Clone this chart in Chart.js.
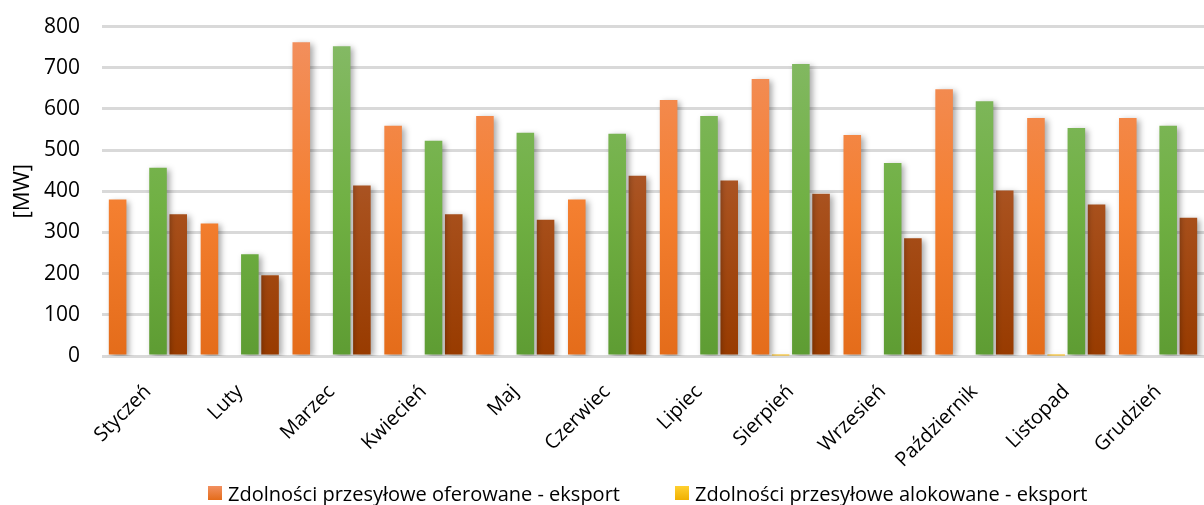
<!DOCTYPE html>
<html><head><meta charset="utf-8">
<script src="https://cdn.jsdelivr.net/npm/chart.js@4/dist/chart.umd.min.js"></script>
<style>
html,body{margin:0;padding:0;background:#fff;overflow:hidden}
#wrap{position:relative;width:1204px;height:505px;overflow:hidden}
#c{position:absolute;left:0;top:-8px}
#legend{position:absolute;left:0;top:480px;width:1204px;height:26px;font-family:'Open Sans';font-size:20px;color:#000;}
.item{position:absolute;top:0;display:flex;align-items:center;height:26px;white-space:nowrap}
.box{width:14px;height:14px;margin-right:6px}
</style>
</head><body><div id="wrap"><canvas id="c" width="1204" height="513"></canvas><div id="legend"></div></div>
<script>
const categories = ['Styczeń','Luty','Marzec','Kwiecień','Maj','Czerwiec','Lipiec','Sierpień','Wrzesień','Październik','Listopad','Grudzień'];
const offeredExport = [380,322,762,559,583,380,622,673,537,648,578,578];
const allocatedExport = [0,0,0,0,0,0,0,1.5,0,0,1.5,0];
const offeredImport = [457,247,752,523,542,540,583,709,469,619,554,559];
const allocatedImport = [344,196,414,344,331,438,426,394,286,402,368,336];
const yTicks = [0,100,200,300,400,500,600,700,800];
const seriesNames = ['Zdolności przesyłowe oferowane - eksport','Zdolności przesyłowe alokowane - eksport','Zdolności przesyłowe oferowane - import','Zdolności przesyłowe alokowane - import'];

function grad(top, mid, bottom){
  return function(ctx){
    const ch = ctx.chart; const a = ch.chartArea;
    if(!a) return bottom;
    const g = ch.ctx.createLinearGradient(0, a.top, 0, a.bottom);
    g.addColorStop(0, top); g.addColorStop(0.55, mid); g.addColorStop(1, bottom);
    return g;
  };
}
const shadow = {
  id:'shadow',
  beforeDatasetsDraw(ch){const c=ch.ctx;c.save();c.shadowColor='rgba(0,0,0,0.35)';c.shadowBlur=6;c.shadowOffsetX=3;c.shadowOffsetY=2;},
  afterDatasetsDraw(ch){ch.ctx.restore();}
};
const F = 'Open Sans';
const common = {categoryPercentage:0.88, barPercentage:0.87, borderWidth:0};
const chart = new Chart(document.getElementById('c'), {
  type:'bar',
  data:{labels:categories, datasets:[
    Object.assign({label:seriesNames[0], data:offeredExport, backgroundColor:grad('#f29060','#f47f30','#e46c1a')},common),
    Object.assign({label:seriesNames[1], data:allocatedExport, backgroundColor:'#f5b400'},common),
    Object.assign({label:seriesNames[2], data:offeredImport, backgroundColor:grad('#86ba68','#70b043','#5e9c33')},common),
    Object.assign({label:seriesNames[3], data:allocatedImport, backgroundColor:grad('#b36a50','#a8501c','#983b00')},common)
  ]},
  options:{
    responsive:false, animation:false,
    layout:{autoPadding:false, padding:{left:0,right:0,top:18,bottom:0}},
    plugins:{ tooltip:{enabled:false}, legend:{display:false} },
    scales:{
      x:{grid:{display:false}, border:{display:false},
        afterFit:(ax)=>{ax.height=149;},
        ticks:{minRotation:45, maxRotation:45, color:'#000', font:{family:F, size:20}, padding:16}},
      y:{min:0, max:800, afterBuildTicks:(ax)=>{ax.ticks=yTicks.map(v=>({value:v}));},
        afterFit:(ax)=>{ax.width=102;},
        grid:{color:'#d9d9d9', lineWidth:3, drawTicks:false}, border:{display:false},
        ticks:{color:'#000', font:{family:F, size:21}, padding:22},
        title:{display:true, text:'[MW]', color:'#000', font:{family:F, size:22}, padding:{top:10,bottom:8}}}
    }
  },
  plugins:[shadow]
});
// HTML legend built from the chart's first two datasets
const legendColors = ['linear-gradient(#f29060,#e46c1a)','linear-gradient(#ffd030,#f0b000)'];
const legendLeft = [208, 675];
const lg = document.getElementById('legend');
[0,1].forEach(i=>{
  const it = document.createElement('div'); it.className='item'; it.style.left=legendLeft[i]+'px';
  const b = document.createElement('span'); b.className='box'; b.style.background=legendColors[i];
  const t = document.createElement('span'); t.textContent = chart.data.datasets[i].label;
  it.appendChild(b); it.appendChild(t); lg.appendChild(it);
});
</script></body></html>
